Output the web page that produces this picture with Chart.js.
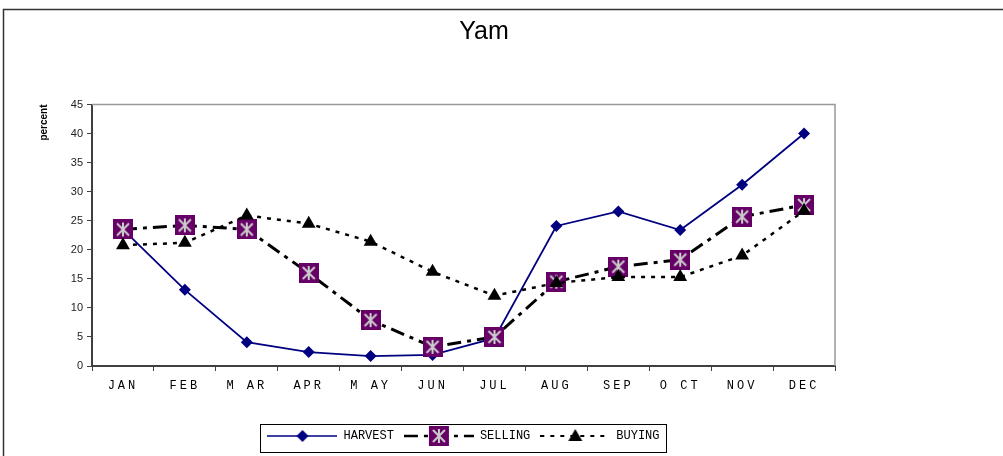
<!DOCTYPE html>
<html>
<head>
<meta charset="utf-8">
<script src="https://cdn.jsdelivr.net/npm/chart.js@4.4.1/dist/chart.umd.min.js"></script>
<style>
  html, body { margin: 0; padding: 0; background: #fff; }
  canvas { display: block; }
</style>
</head>
<body>
<canvas id="yamChart" width="1003" height="456"></canvas>
<script>
const months = ['JAN', 'FEB', 'M AR', 'APR', 'M AY', 'JUN', 'JUL', 'AUG', 'SEP', 'O CT', 'NOV', 'DEC'];
const harvest = [23.5, 13.1, 4.1, 2.4, 1.7, 1.9, 4.8, 24.1, 26.6, 23.4, 31.2, 40.0];
const selling = [23.5, 24.2, 23.5, 16.0, 7.9, 3.3, 5.0, 14.5, 17.1, 18.3, 25.7, 27.7];
const buying = [20.8, 21.2, 25.9, 24.5, 21.4, 16.2, 12.1, 14.3, 15.3, 15.3, 19.0, 26.7];
const yTicks = [0, 5, 10, 15, 20, 25, 30, 35, 40, 45];

const NAVY = '#000080';
const PURPLE = '#660066';
const monoFont = '"Courier New", "Liberation Mono", monospace';

// purple box with grey asterisk, used for SELLING
function drawSellMark(g, cx, cy) {
  g.fillStyle = PURPLE;
  g.fillRect(cx - 10, cy - 10, 20, 20);
  g.strokeStyle = '#cccccc';
  g.lineWidth = 2;
  g.beginPath();
  g.moveTo(cx, cy - 7); g.lineTo(cx, cy + 7);
  g.moveTo(cx - 6, cy - 6); g.lineTo(cx + 6, cy + 6);
  g.moveTo(cx + 6, cy - 6); g.lineTo(cx - 6, cy + 6);
  g.stroke();
}

function makeCanvas(w, h, fn) {
  const c = document.createElement('canvas');
  c.width = w; c.height = h;
  fn(c.getContext('2d'));
  return c;
}

const sellPoint = makeCanvas(20, 20, g => drawSellMark(g, 10, 10));

// legend symbols: line + marker
const SYM_W = 70;
const legendHarvest = makeCanvas(SYM_W, 20, g => {
  g.strokeStyle = NAVY; g.lineWidth = 1.5;
  g.beginPath(); g.moveTo(0, 10); g.lineTo(SYM_W, 10); g.stroke();
  g.fillStyle = NAVY;
  const c = SYM_W / 2;
  g.beginPath(); g.moveTo(c, 4); g.lineTo(c + 6, 10); g.lineTo(c, 16); g.lineTo(c - 6, 10); g.closePath(); g.fill();
});
const legendSelling = makeCanvas(SYM_W, 20, g => {
  g.strokeStyle = '#000'; g.lineWidth = 2.5; g.setLineDash([14, 6, 4, 6]);
  g.beginPath(); g.moveTo(0, 10); g.lineTo(SYM_W, 10); g.stroke();
  g.setLineDash([]);
  drawSellMark(g, SYM_W / 2, 10);
});
const legendBuying = makeCanvas(SYM_W, 20, g => {
  g.strokeStyle = '#000'; g.lineWidth = 2; g.setLineDash([4, 6]);
  g.beginPath(); g.moveTo(0, 10); g.lineTo(SYM_W, 10); g.stroke();
  g.fillStyle = '#000';
  const c = SYM_W / 2;
  g.beginPath(); g.moveTo(c, 3); g.lineTo(c + 7, 15); g.lineTo(c - 7, 15); g.closePath(); g.fill();
});
const legendImgs = [legendHarvest, legendSelling, legendBuying];

const framePlugin = {
  id: 'frame',
  afterUpdate(chart) {
    // spaced-out month labels like the original
    const xs = chart.scales.x;
    if (xs && !xs._spaced) {
      const orig = xs.drawLabels;
      xs.drawLabels = function (area) {
        this.ctx.save();
        this.ctx.letterSpacing = '3px';
        orig.call(this, area);
        this.ctx.restore();
      };
      xs._spaced = true;
    }
  },
  beforeDraw(chart) {
    const ctx = chart.ctx;
    ctx.save();
    ctx.strokeStyle = '#333';
    ctx.lineWidth = 1.5;
    ctx.strokeRect(3.5, 9.5, 1100, 600);
    ctx.restore();
  },
  beforeDatasetsDraw(chart) {
    const { ctx, chartArea: a } = chart;
    ctx.save();
    ctx.strokeStyle = '#999';
    ctx.lineWidth = 1.5;
    ctx.beginPath();
    ctx.moveTo(a.left, a.top); ctx.lineTo(a.right, a.top); ctx.lineTo(a.right, a.bottom);
    ctx.stroke();
    ctx.restore();
  },
  afterDraw(chart) {
    const boxes = chart.legend.legendHitBoxes;
    if (!boxes || !boxes.length) return;
    const first = boxes[0], last = boxes[boxes.length - 1];
    const ctx = chart.ctx;
    ctx.save();
    ctx.strokeStyle = '#000';
    ctx.lineWidth = 1;
    ctx.strokeRect(Math.round(first.left) - 6.5, 424.5, Math.round(last.left + last.width - first.left) + 14, 28);
    ctx.restore();
  }
};

new Chart(document.getElementById('yamChart'), {
  type: 'line',
  data: {
    labels: months,
    datasets: [
      {
        label: 'HARVEST',
        data: harvest,
        order: 2,
        borderColor: NAVY,
        backgroundColor: NAVY,
        borderWidth: 1.8,
        pointStyle: 'rectRot',
        pointRadius: 6,
        pointBorderWidth: 0,
        tension: 0,
      },
      {
        label: 'SELLING',
        data: selling,
        order: 1,
        borderColor: '#000',
        borderWidth: 3,
        borderDash: [14, 6, 4, 6],
        pointStyle: sellPoint,
        tension: 0,
      },
      {
        label: 'BUYING',
        data: buying,
        order: 0,
        borderColor: '#000',
        backgroundColor: '#000',
        borderWidth: 2.5,
        borderDash: [4, 6],
        pointStyle: 'triangle',
        pointRadius: 8,
        pointBorderWidth: 0,
        tension: 0,
      },
    ],
  },
  options: {
    responsive: false,
    animation: false,
    devicePixelRatio: 1,
    layout: { padding: { left: 39, right: 74, top: 18, bottom: 4 } },
    scales: {
      x: {
        offset: true,
        grid: { drawOnChartArea: false, drawTicks: true, tickLength: 5, offset: true, color: '#404040', lineWidth: 1 },
        border: { color: '#404040', width: 2 },
        ticks: { color: '#000', padding: 8, font: { family: monoFont, size: 12 }, maxRotation: 0, autoSkip: false },
        afterFit(scale) { scale.height = 54; },
      },
      y: {
        min: 0,
        max: 45,
        afterBuildTicks(scale) { scale.ticks = yTicks.map(v => ({ value: v })); },
        grid: { drawOnChartArea: false, drawTicks: true, tickLength: 5, color: '#404040' },
        border: { color: '#404040', width: 2 },
        ticks: { color: '#222', padding: 4, font: { family: 'Liberation Sans, Arial, sans-serif', size: 11 } },
        title: {
          display: true,
          text: 'percent',
          align: 'end',
          padding: 0,
          color: '#000',
          font: { family: 'Liberation Sans, Arial, sans-serif', size: 10, weight: 'bold', lineHeight: 1 },
        },
        afterFit(scale) { scale.width = 53; },
      },
      // empty right-hand spacer so the title sits where the original has it
      spacer: {
        position: 'right',
        grid: { display: false },
        border: { display: false },
        ticks: { display: false },
        afterFit(scale) { scale.width = 94; },
      },
    },
    plugins: {
      title: {
        display: true,
        text: 'Yam',
        color: '#000',
        font: { family: 'Liberation Sans Narrow, Liberation Sans, Arial, sans-serif', size: 25, weight: 'normal', lineHeight: 1.1 },
        padding: { top: 0, bottom: 59 },
      },
      legend: {
        position: 'bottom',
        fullSize: false,
        labels: {
          color: '#000',
          font: { family: monoFont, size: 12 },
          usePointStyle: true,
          pointStyleWidth: SYM_W,
          padding: 10,
          generateLabels(chart) {
            return chart.data.datasets.map((ds, i) => ({
              text: ds.label,
              pointStyle: legendImgs[i],
              datasetIndex: i,
              hidden: false,
              lineWidth: 0,
              fontColor: '#000',
            }));
          },
        },
      },
      tooltip: { enabled: false },
    },
  },
  plugins: [framePlugin],
});
</script>
</body>
</html>
